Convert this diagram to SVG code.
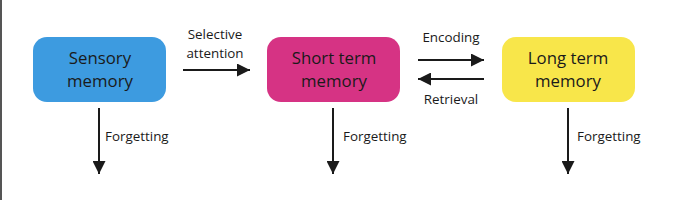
<svg xmlns="http://www.w3.org/2000/svg" width="680" height="200" viewBox="0 0 680 200">
<style>
.box{stroke:none}
.t{font-family:"Open Sans","Liberation Sans",sans-serif;fill:#1a1a1a;text-anchor:middle}
.nt{font-size:16.8px}
.lt{font-size:13.4px}
.c{stroke:#1a1a1a;stroke-width:2;fill:none}
</style>
<defs>
<marker id="ahb" viewBox="0 0 12 12" refX="12" refY="6" markerWidth="13" markerHeight="13" orient="auto" markerUnits="userSpaceOnUse">
<path d="M0,0 L12,6 L0,12 Z" fill="#1a1a1a"/>
</marker>
</defs>
<rect width="680" height="200" fill="#ffffff"/>
<line x1="1" y1="0" x2="1" y2="200" stroke="#555" stroke-width="2"/>
<g id="sensory">
<rect class="box" x="33" y="37" width="133" height="65" rx="14" fill="#3d9be0"/>
<text class="t nt" x="100" y="64">Sensory</text>
<text class="t nt" x="100" y="87">memory</text>
</g>
<g id="short">
<rect class="box" x="267" y="37" width="133" height="65" rx="14" fill="#d63384"/>
<text class="t nt" x="334" y="64">Short term</text>
<text class="t nt" x="334" y="87">memory</text>
</g>
<g id="long">
<rect class="box" x="502" y="37" width="133" height="65" rx="14" fill="#f8e64a"/>
<text class="t nt" x="568" y="64">Long term</text>
<text class="t nt" x="568" y="87">memory</text>
</g>
<g id="connectors">
<line class="c" x1="183" y1="70" x2="250" y2="70" marker-end="url(#ahb)"/>
<text class="t lt" x="215" y="39">Selective</text>
<text class="t lt" x="215" y="58">attention</text>
<line class="c" x1="418" y1="60" x2="484" y2="60" marker-end="url(#ahb)"/>
<text class="t lt" x="451" y="42">Encoding</text>
<line class="c" x1="484" y1="79" x2="418" y2="79" marker-end="url(#ahb)"/>
<text class="t lt" x="451" y="104">Retrieval</text>
<line class="c" x1="99" y1="108" x2="99" y2="174" marker-end="url(#ahb)"/>
<text class="t lt" x="105" y="141" style="text-anchor:start">Forgetting</text>
<line class="c" x1="333" y1="108" x2="333" y2="174" marker-end="url(#ahb)"/>
<text class="t lt" x="343" y="141" style="text-anchor:start">Forgetting</text>
<line class="c" x1="568" y1="108" x2="568" y2="174" marker-end="url(#ahb)"/>
<text class="t lt" x="577" y="141" style="text-anchor:start">Forgetting</text>
</g>
</svg>
